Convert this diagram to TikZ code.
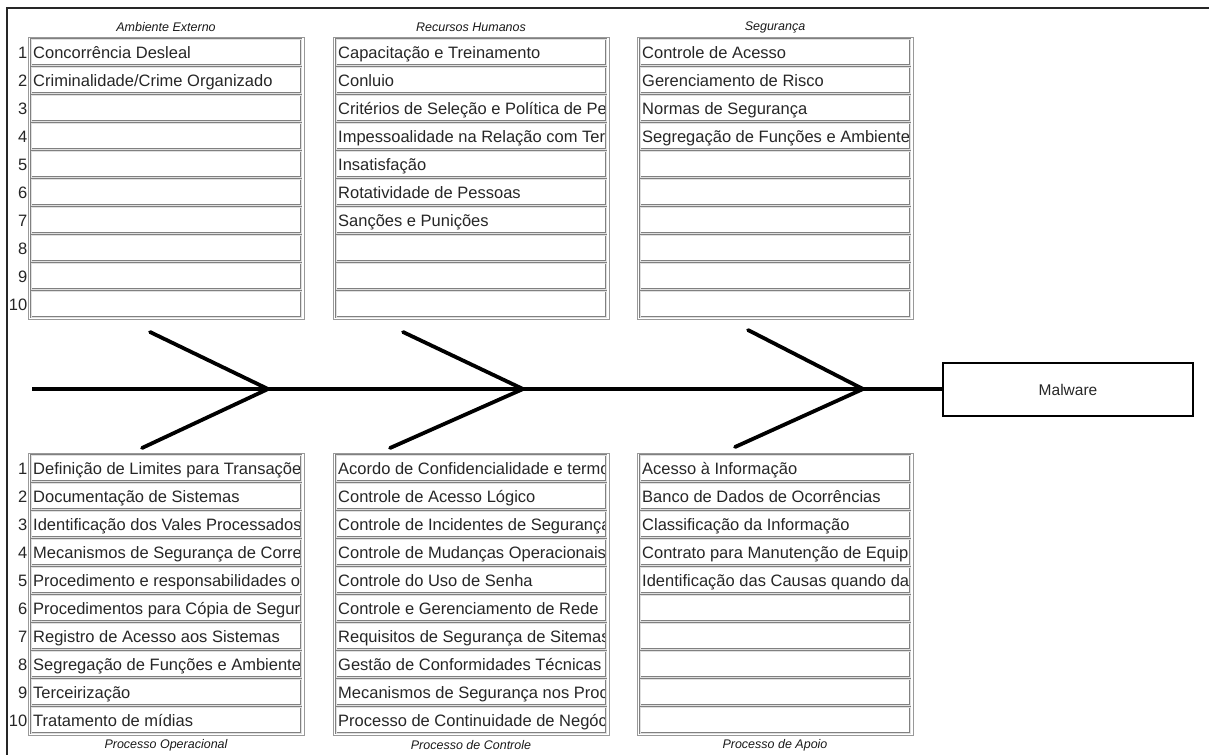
\documentclass[tikz,border=0pt]{standalone}
\usepackage{fontspec}
\setmainfont{Liberation Sans}

% One column of ten cause cells with a grey frame and a clipped text per cell.
% #1 name prefix, #2 left x of the frame, #3 top y of the frame, #4 list of texts
\newcommand\causecolumn[4]{%
  \draw[frame] (#2,#3) rectangle (#2+276,#3+282);
  \foreach \celltxt [count=\i] in {#4} {
    \pgfmathsetmacro\ty{#3+2+28*(\i-1)}
    \begin{scope}
      \clip (#2+4.5,\ty+1.5) rectangle (#2+271.5,\ty+24.5);
      \node[celltext] (#1-\i) at (#2+5,\ty+19) {\celltxt};
    \end{scope}
    \draw[cell] (#2+3,\ty) rectangle (#2+273,\ty+26);
  }%
}
% Row numbers 1..10 to the left of a column
\newcommand\causenumbers[3]{%
  \foreach \i in {1,...,10} {
    \pgfmathsetmacro\ty{#3+2+28*(\i-1)}
    \node[rownum] (#1-n\i) at (#2-0.5,\ty+19) {\i};
  }%
}

\begin{document}
\begin{tikzpicture}[x=1pt,y=-1pt,
  frame/.style={draw=black!40, line width=0.8pt},
  cell/.style={draw=black!50, line width=0.6pt, double=black!12, double distance=1pt},
  celltext/.style={anchor=base west, inner sep=0pt, text=black!85,
    font=\fontsize{16.5}{16.5}\selectfont},
  rownum/.style={anchor=base east, inner sep=0pt, text=black!85,
    font=\fontsize{16.5}{16.5}\selectfont},
  grouptitle/.style={inner sep=0pt, text=black!90,
    font=\fontsize{12.5}{12.5}\selectfont\itshape},
  border/.style={draw=black!85, line width=1.3pt},
  spine/.style={line width=3.6pt},
  bone/.style={line width=3.8pt, line cap=round, line join=miter},
  effect/.style={draw, line width=2pt, minimum width=250pt, minimum height=53pt,
    inner sep=0pt, text=black!85, font=\fontsize{15.5}{15.5}\selectfont},
  ]
\useasboundingbox (0,0) rectangle (1209,755);

% page frame: top rule and left rule
\coordinate (frame-corner) at (7,8);
\coordinate (frame-right) at (1209,8);
\coordinate (frame-bottom) at (7,755);
\draw[border] (frame-right) -- (frame-corner) -- (frame-bottom);

% group titles
\node[grouptitle] (t-ae) at (166,27) {Ambiente Externo};
\node[grouptitle] (t-rh) at (471,27) {Recursos Humanos};
\node[grouptitle] (t-sg) at (775,27) {Segurança};
\node[grouptitle] (t-po) at (166,745) {Processo Operacional};
\node[grouptitle] (t-pc) at (471,745) {Processo de Controle};
\node[grouptitle] (t-pa) at (775,745) {Processo de Apoio};

% upper columns
\causecolumn{ae}{28}{37}{Concorrência Desleal,Criminalidade/Crime Organizado,{},{},{},{},{},{},{},{}}
\causenumbers{ae}{28}{37}
\causecolumn{rh}{333}{37}{Capacitação e Treinamento,Conluio,Critérios de Seleção e Política de Pe,Impessoalidade na Relação com Ter,Insatisfação,Rotatividade de Pessoas,Sanções e Punições,{},{},{}}
\causecolumn{sg}{637}{37}{Controle de Acesso,Gerenciamento de Risco,Normas de Segurança,Segregação de Funções e Ambiente,{},{},{},{},{},{}}

% lower columns
\causecolumn{po}{28}{453}{Definição de Limites para Transaçõe,Documentação de Sistemas,Identificação dos Vales Processados,Mecanismos de Segurança de Corre,Procedimento e responsabilidades o,Procedimentos para Cópia de Segur,Registro de Acesso aos Sistemas,Segregação de Funções e Ambiente,Terceirização,Tratamento de mídias}
\causenumbers{po}{28}{453}
\causecolumn{pc}{333}{453}{Acordo de Confidencialidade e termo,Controle de Acesso Lógico,Controle de Incidentes de Segurança,Controle de Mudanças Operacionais,Controle do Uso de Senha,Controle e Gerenciamento de Rede,Requisitos de Segurança de Sitemas,Gestão de Conformidades Técnicas,Mecanismos de Segurança nos Proc,Processo de Continuidade de Negóc}
\causecolumn{pa}{637}{453}{Acesso à Informação,Banco de Dados de Ocorrências,Classificação da Informação,Contrato para Manutenção de Equip,Identificação das Causas quando da,{},{},{},{},{}}

% effect box and spine
\node[effect] (malware) at (1068,389.5) {Malware};
\coordinate (spine-tail) at (32,389);
\draw[spine] (spine-tail) -- (spine-tail -| malware.west);

% bones meeting the spine
\coordinate (b1-top) at (150,332);
\coordinate (b1-tip) at (268,389);
\coordinate (b1-bot) at (142,448);
\coordinate (b2-top) at (403,332);
\coordinate (b2-tip) at (523,389);
\coordinate (b2-bot) at (390,448);
\coordinate (b3-top) at (748,330);
\coordinate (b3-tip) at (863,389);
\coordinate (b3-bot) at (735,447);
\draw[bone] (b1-top) -- (b1-tip) -- (b1-bot);
\draw[bone] (b2-top) -- (b2-tip) -- (b2-bot);
\draw[bone] (b3-top) -- (b3-tip) -- (b3-bot);
\end{tikzpicture}
\end{document}
